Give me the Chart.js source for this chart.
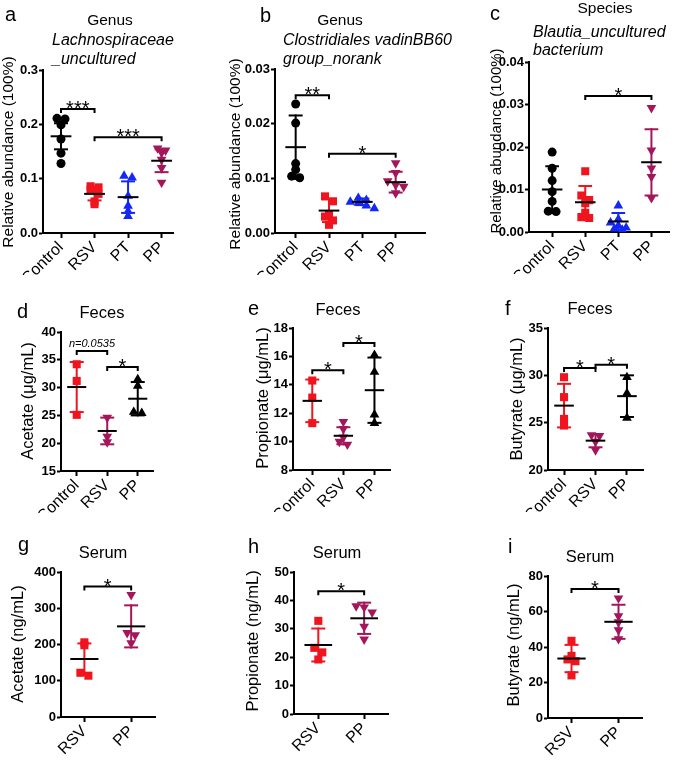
<!DOCTYPE html>
<html>
<head>
<meta charset="utf-8">
<script src="https://cdn.jsdelivr.net/npm/chart.js@4"></script>
<style>
  body { margin: 0; background: #fff; width: 675px; height: 760px; position: relative; overflow: hidden; }
  canvas { position: absolute; left: 0; top: 0; }
</style>
</head>
<body>
<script>
const FONT = '"Liberation Sans", Arial, sans-serif';
const RED = '#f0141e', BLUE = '#1428f5', MAG = '#a3175a', BLK = '#000000';

const groups4 = ['Control', 'RSV', 'PT', 'PP'];
const groups3 = ['Control', 'RSV', 'PP'];
const groups2 = ['RSV', 'PP'];

// a - Lachnospiraceae_uncultured
const aPoints = [[0.211, 0.210, 0.199, 0.173, 0.147, 0.128], [0.086, 0.084, 0.080, 0.072, 0.058, 0.053],
                 [0.105, 0.102, 0.068, 0.050, 0.040, 0.031], [0.156, 0.152, 0.148, 0.135, 0.120, 0.093]];
const aMean = [0.178, 0.072, 0.066, 0.133];
const aSd = [0.024, 0.012, 0.029, 0.021];
const aTicks = [0, 0.1, 0.2, 0.3];
const aSig = [[0, 1, 0.228, '***'], [1, 3, 0.176, '***']];

// b - Clostridiales vadinBB60 group_norank
const bPoints = [[0.0236, 0.0201, 0.0127, 0.0116, 0.0104, 0.0101], [0.0067, 0.0058, 0.0034, 0.0030, 0.0023, 0.0015],
                 [0.0064, 0.0060, 0.0057, 0.0055, 0.0050, 0.0045], [0.0128, 0.0110, 0.0095, 0.0088, 0.0085, 0.0073]];
const bMean = [0.0157, 0.0041, 0.0057, 0.0093];
const bSd = [0.0058, 0.0021, 0.0006, 0.0019];
const bTicks = [0, 0.01, 0.02, 0.03];
const bSig = [[0, 1, 0.0252, '**'], [1, 3, 0.0145, '*']];

// c - Blautia_uncultured bacterium
const cPoints = [[0.0188, 0.0150, 0.0121, 0.0095, 0.0072, 0.0049, 0.0048], [0.0143, 0.0086, 0.0075, 0.0068, 0.0045, 0.0035, 0.0033],
                 [0.0062, 0.0030, 0.0022, 0.0015, 0.0010, 0.0008, 0.0005], [0.0292, 0.0192, 0.0150, 0.0130, 0.0080]];
const cMean = [0.0100, 0.0070, 0.0025, 0.0164];
const cSd = [0.0055, 0.0038, 0.0020, 0.0078];
const cTicks = [0, 0.01, 0.02, 0.03, 0.04];
const cSig = [[1, 3, 0.032, '*']];

// d - feces acetate
const dPoints = [[34.2, 31.2, 25.1], [24.6, 21.2, 20.2], [31.5, 30.3, 25.6, 25.4]];
const dMean = [30.1, 22.2, 28.0];
const dSd = [4.5, 2.4, 3.0];
const dTicks = [15, 20, 25, 30, 35, 40];
const dSig = [[0, 1, 36.6, 'n=0.0535'], [1, 2, 33.7, '*']];

// e - feces propionate
const ePoints = [[14.3, 13.1, 11.3], [11.4, 10.9, 10.3, 10.0, 9.8], [16.1, 14.9, 11.9, 11.3]];
const eMean = [12.87, 10.41, 13.62];
const eSd = [1.5, 0.6, 2.3];
const eTicks = [8, 10, 12, 14, 16, 18];
const eSig = [[0, 1, 15.03, '*'], [1, 2, 16.95, '*']];

// f - feces butyrate
const fPoints = [[29.8, 27.7, 25.4, 24.7], [23.7, 23.6, 23.0, 22.1], [29.8, 28.1, 25.5]];
const fMean = [26.8, 23.1, 27.8];
const fSd = [2.3, 0.7, 2.2];
const fTicks = [20, 25, 30, 35];
const fSig = [[0, 1, 30.78, '*'], [1, 2, 31.13, '*']];

// g - serum acetate
const gPoints = [[206, 198, 122, 114], [337, 232, 226, 204]];
const gMean = [160, 250];
const gSd = [43, 58];
const gTicks = [0, 100, 200, 300, 400];
const gSig = [[0, 1, 360, '*']];

// h - serum propionate
const hPoints = [[32.8, 23.3, 21.7, 19.2], [38.0, 37.6, 35.8, 30.8, 26.3]];
const hMean = [24.3, 33.7];
const hSd = [5.8, 5.5];
const hTicks = [0, 10, 20, 30, 40, 50];
const hSig = [[0, 1, 43.2, '*']];

// i - serum butyrate
const iPoints = [[43.5, 35.0, 33.0, 32.0, 24.0], [67.5, 57.5, 54.0, 49.5, 44.5]];
const iMean = [33.5, 54.2];
const iSd = [7.7, 9.6];
const iTicks = [0, 20, 40, 60, 80];
const iSig = [[0, 1, 72.7, '*']];

const row1Style = { colors: [BLK, RED, BLUE, MAG], shapes: ['circle', 'rect', 'triangle', 'down'] };
const row2Style = { colors: [RED, MAG, BLK], shapes: ['rect', 'down', 'triangle'] };
const row3Style = { colors: [RED, MAG], shapes: ['rect', 'down'] };

// spread overlapping points sideways, like a column scatter
function spread(vals, lo, span, hPx, catPx) {
  const rows = {};
  vals.forEach((v, k) => {
    const r = Math.round((v - lo) / span * hPx / 7);
    (rows[r] = rows[r] || []).push(k);
  });
  const off = vals.map(() => 0);
  Object.values(rows).forEach(ks => ks.forEach((k, j) => { off[k] = (j - (ks.length - 1) / 2) * 8 / catPx; }));
  return off;
}

function seg(pts, color, order) {
  return {
    type: 'line', data: pts.map(([x, y]) => ({ x, y })), borderColor: color, borderWidth: 2,
    pointRadius: 0, fill: false, order: order, borderCapStyle: 'square'
  };
}

const decor = {
  id: 'decor',
  afterDraw(chart, args, o) {
    const ctx = chart.ctx, xs = chart.scales.x, ys = chart.scales.y;
    ctx.save();
    ctx.fillStyle = '#000';
    o.texts.forEach(t => {
      ctx.font = t.font + ' ' + FONT;
      if (t.rot) {
        ctx.save();
        ctx.translate(t.x, t.y);
        ctx.rotate(-Math.PI / 2);
        ctx.textAlign = 'center';
        ctx.textBaseline = 'middle';
        ctx.fillText(t.t, 0, 0);
        ctx.restore();
      } else {
        ctx.textAlign = t.align || 'left';
        ctx.textBaseline = 'alphabetic';
        ctx.fillText(t.t, t.x, t.y);
      }
    });
    o.sig.forEach(([g0, g1, y, label]) => {
      const x0 = xs.getPixelForValue(g0), x1 = xs.getPixelForValue(g1), py = ys.getPixelForValue(y);
      ctx.strokeStyle = '#000';
      ctx.lineWidth = 2;
      ctx.beginPath();
      ctx.moveTo(x0, py + 4); ctx.lineTo(x0, py); ctx.lineTo(x1, py); ctx.lineTo(x1, py + 4);
      ctx.stroke();
      ctx.textAlign = 'center';
      ctx.textBaseline = 'alphabetic';
      if (label.startsWith('n=')) {
        ctx.font = 'italic 11px ' + FONT;
        ctx.fillText(label, (x0 + x1) / 2, py - 4);
      } else {
        ctx.font = '20px ' + FONT;
        ctx.fillText(label, (x0 + x1) / 2, py + 6);
      }
    });
    ctx.restore();
  }
};

const XH = 42;

function makePanel(p) {
  const canvas = document.createElement('canvas');
  canvas.width = 675; canvas.height = 760;
  document.body.appendChild(canvas);
  const [L, T, R, B] = p.area;
  const [xmin, xmax] = p.xr;
  const lo = p.ticks[0], hi = p.ticks[p.ticks.length - 1];
  const catPx = (R - L) / (xmax - xmin);
  const datasets = [];
  p.points.forEach((vals, g) => {
    const col = p.style.colors[g], shape = p.style.shapes[g];
    const offs = spread(vals, lo, hi - lo, B - T, catPx);
    const r = shape === 'circle' ? 4.5 : shape === 'rect' ? 5.7 : 5.6;
    datasets.push({
      type: 'scatter', data: vals.map((v, k) => ({ x: g + offs[k], y: v })),
      pointStyle: shape === 'down' ? 'triangle' : shape, pointRotation: shape === 'down' ? 180 : 0,
      pointRadius: r, backgroundColor: col, borderColor: col, borderWidth: 0, order: 3
    });
    const m = p.mean[g], s = p.sd[g], cap = 6 / catPx, half = 0.28;
    datasets.push(seg([[g, m - s], [g, m + s]], col, 2));
    datasets.push(seg([[g - cap, m + s], [g + cap, m + s]], col, 2));
    datasets.push(seg([[g - cap, m - s], [g + cap, m - s]], col, 2));
    datasets.push(seg([[g - half, m], [g + half, m]], BLK, 1));
  });
  const zeroPad = s => { s.paddingLeft = 0; s.paddingRight = 0; s.paddingTop = 0; s.paddingBottom = 0; };
  new Chart(canvas, {
    type: 'scatter',
    data: { datasets },
    plugins: [decor],
    options: {
      responsive: false,
      animation: false,
      events: [],
      layout: { padding: { left: L - 40, top: T, right: 675 - R, bottom: 760 - B - XH } },
      plugins: {
        legend: { display: false },
        tooltip: { enabled: false },
        decor: { texts: p.texts, sig: p.sig }
      },
      scales: {
        x: {
          type: 'linear', min: xmin, max: xmax,
          afterBuildTicks: s => { s.ticks = p.groups.map((_, i) => ({ value: i })); },
          afterFit: s => { s.height = XH; zeroPad(s); },
          ticks: {
            callback: v => p.groups[v], autoSkip: false, maxRotation: 45, minRotation: 45,
            color: '#000', font: { size: 16, family: FONT }, padding: 0
          },
          grid: { drawOnChartArea: false, drawTicks: true, tickLength: 5, tickWidth: 2, tickColor: '#000' },
          border: { color: '#000', width: 2 }
        },
        y: {
          min: lo, max: hi,
          afterBuildTicks: s => { s.ticks = p.ticks.map(v => ({ value: v })); },
          afterFit: s => { s.width = 40; zeroPad(s); },
          ticks: {
            callback: v => v.toFixed(p.dec), color: '#000',
            font: { size: 13, weight: 'bold', family: FONT }, padding: 1
          },
          grid: { drawOnChartArea: false, drawTicks: true, tickLength: 4, tickWidth: 2, tickColor: '#000' },
          border: { color: '#000', width: 2 }
        }
      }
    }
  });
}

const LET = '20px', TTL = '15.5px', ITL = 'italic 16px', SUB = '16.5px', AX = '15.5px', AX2 = '16.5px';

makePanel({
  groups: groups4, points: aPoints, mean: aMean, sd: aSd, ticks: aTicks, dec: 1, sig: aSig, style: row1Style,
  area: [43, 70, 173, 233], xr: [-0.537, 3.34],
  texts: [
    { t: 'a', x: 5, y: 20.5, font: LET },
    { t: 'Genus', x: 110, y: 25, font: TTL, align: 'center' },
    { t: 'Lachnospiraceae', x: 52, y: 44.5, font: ITL },
    { t: '_uncultured', x: 52, y: 64, font: ITL },
    { t: 'Relative abundance (100%)', x: 9, y: 152, font: AX, rot: true }
  ]
});
makePanel({
  groups: groups4, points: bPoints, mean: bMean, sd: bSd, ticks: bTicks, dec: 2, sig: bSig, style: row1Style,
  area: [275, 69, 425, 233], xr: [-0.62, 3.88],
  texts: [
    { t: 'b', x: 260, y: 21.5, font: LET },
    { t: 'Genus', x: 340, y: 25, font: TTL, align: 'center' },
    { t: 'Clostridiales vadinBB60', x: 283, y: 44.5, font: ITL },
    { t: 'group_norank', x: 283, y: 63.5, font: ITL },
    { t: 'Relative abundance (100%)', x: 236, y: 154, font: AX, rot: true }
  ]
});
makePanel({
  groups: groups4, points: cPoints, mean: cMean, sd: cSd, ticks: cTicks, dec: 2, sig: cSig, style: row1Style,
  area: [529, 62, 673, 232], xr: [-0.70, 3.54],
  texts: [
    { t: 'c', x: 490, y: 20, font: LET },
    { t: 'Species', x: 605, y: 13, font: TTL, align: 'center' },
    { t: 'Blautia_uncultured', x: 533, y: 36.5, font: ITL },
    { t: 'bacterium', x: 533, y: 54.5, font: ITL },
    { t: 'Relative abundance (100%)', x: 497, y: 141, font: '15px', rot: true }
  ]
});
makePanel({
  groups: groups3, points: dPoints, mean: dMean, sd: dSd, ticks: dTicks, dec: 0, sig: dSig, style: row2Style,
  area: [61, 332, 153, 471], xr: [-0.515, 2.5],
  texts: [
    { t: 'd', x: 17, y: 318, font: LET },
    { t: 'Feces', x: 102, y: 318, font: SUB, align: 'center' },
    { t: 'Acetate (\u03bcg/mL)', x: 28, y: 401, font: AX2, rot: true }
  ]
});
makePanel({
  groups: groups3, points: ePoints, mean: eMean, sd: eSd, ticks: eTicks, dec: 0, sig: eSig, style: row2Style,
  area: [293, 328, 390, 470], xr: [-0.62, 2.5],
  texts: [
    { t: 'e', x: 248, y: 315, font: LET },
    { t: 'Feces', x: 338, y: 315, font: SUB, align: 'center' },
    { t: 'Propionate (\u03bcg/mL)', x: 263, y: 398, font: AX2, rot: true }
  ]
});
makePanel({
  groups: groups3, points: fPoints, mean: fMean, sd: fSd, ticks: fTicks, dec: 0, sig: fSig, style: row2Style,
  area: [548, 328, 643, 470], xr: [-0.51, 2.51],
  texts: [
    { t: 'f', x: 505, y: 315, font: LET },
    { t: 'Feces', x: 590, y: 313.5, font: SUB, align: 'center' },
    { t: 'Butyrate (\u03bcg/mL)', x: 517, y: 399, font: AX2, rot: true }
  ]
});
makePanel({
  groups: groups2, points: gPoints, mean: gMean, sd: gSd, ticks: gTicks, dec: 0, sig: gSig, style: row3Style,
  area: [61, 572, 155, 717], xr: [-0.5, 1.51],
  texts: [
    { t: 'g', x: 18, y: 551, font: LET },
    { t: 'Serum', x: 103, y: 558, font: SUB, align: 'center' },
    { t: 'Acetate (ng/mL)', x: 18, y: 644, font: AX2, rot: true }
  ]
});
makePanel({
  groups: groups2, points: hPoints, mean: hMean, sd: hSd, ticks: hTicks, dec: 0, sig: hSig, style: row3Style,
  area: [294, 572, 388, 714], xr: [-0.53, 1.52],
  texts: [
    { t: 'h', x: 248, y: 553, font: LET },
    { t: 'Serum', x: 337, y: 558, font: SUB, align: 'center' },
    { t: 'Propionate (ng/mL)', x: 253, y: 641, font: AX2, rot: true }
  ]
});
makePanel({
  groups: groups2, points: iPoints, mean: iMean, sd: iSd, ticks: iTicks, dec: 0, sig: iSig, style: row3Style,
  area: [548, 576, 642, 718], xr: [-0.5, 1.5],
  texts: [
    { t: 'i', x: 508, y: 553, font: LET },
    { t: 'Serum', x: 590, y: 561.5, font: SUB, align: 'center' },
    { t: 'Butyrate (ng/mL)', x: 514, y: 645, font: AX2, rot: true }
  ]
});
</script>
</body>
</html>
